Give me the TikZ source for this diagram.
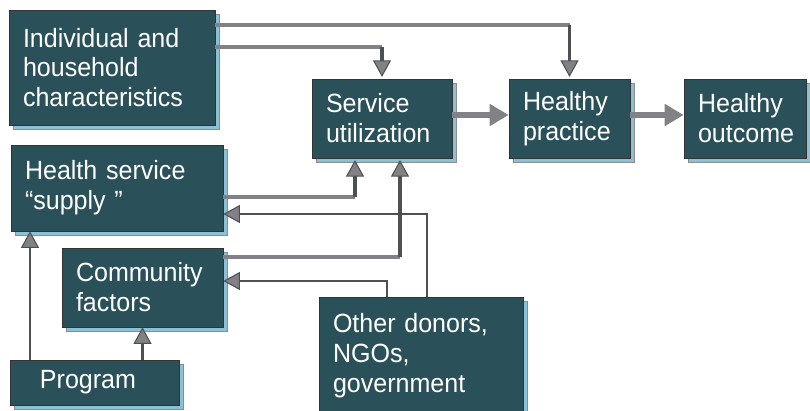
\documentclass[tikz,border=0pt]{standalone}
\usepackage{fontspec}
\setmainfont{Liberation Sans}[FakeStretch=0.95]
\usetikzlibrary{positioning,shadows,arrows.meta}
\definecolor{boxteal}{RGB}{42,81,89}
\definecolor{shadowblue}{RGB}{142,192,212}
\definecolor{linegray}{RGB}{128,130,133}
\definecolor{linedark}{RGB}{78,80,83}

\begin{document}
\begin{tikzpicture}[auto, node distance=3cm]
     		%define block styles
     		\tikzset{
     			block/.style={rectangle, draw=black!80, fill=boxteal, text=white, align=left, inner xsep=0.28cm, font=\fontsize{15}{17}\selectfont, drop shadow={shadow xshift=0.08cm, shadow yshift=-0.08cm, fill=shadowblue, draw=black!45, opacity=1}},
     			feed/.style={draw=linegray, line width=2.8pt},
     			upline/.style={draw=linedark, line width=1.8pt, -{Triangle[width=0.36cm, length=0.33cm, fill=linegray, line width=0.6pt]}, shorten >=1pt},
     			link/.style={draw=linedark, line width=1.6pt, -{Triangle[width=0.36cm, length=0.33cm, fill=linegray, line width=0.6pt]}},
     			bigarrow/.style={draw=linegray, line width=3.2pt, -{Triangle[width=0.42cm, length=0.38cm]}},}
     		\useasboundingbox (0,0) rectangle (16.2,-8.2);
     		%define nodes
     		\node[block, text width=3.56cm, minimum height=2.30cm](indiv) at (2.24,-1.35){Individual and\\household\\characteristics};
     		\node[block, below of=indiv, yshift=0.59cm, xshift=0.10cm, text width=3.68cm, minimum height=1.72cm](supply){Health service\\“supply ”};
     		\node[block, below of=supply, yshift=1.01cm, xshift=0.51cm, text width=2.66cm, minimum height=1.58cm](comm){Community\\factors};
     		\node[block, below of=comm, yshift=1.10cm, xshift=-0.96cm, text width=2.82cm, minimum height=0.90cm](prog){\hspace*{0.32cm}Program};
     		\node[block, text width=2.24cm, minimum height=1.58cm](serv) at (7.64,-2.37){Service\\utilization};
     		\node[block, right of=serv, xshift=0.75cm, text width=1.86cm, minimum height=1.58cm](practice){Healthy\\practice};
     		\node[block, right of=practice, xshift=0.51cm, text width=1.88cm, minimum height=1.58cm](outcome){Healthy\\outcome};
     		\node[block, below of=serv, yshift=-1.75cm, xshift=0.78cm, text width=3.52cm, minimum height=2.36cm](donors){Other donors,\\NGOs,\\government};
     		%define connectors
     		\coordinate (i1) at ([yshift=0.85cm]indiv.east);
     		\coordinate (i2) at ([yshift=0.41cm]indiv.east);
     		\draw[feed] (i1) -- (i1 -| practice.north) coordinate (t1);
     		\draw[upline] (t1) -- (practice.north);
     		\draw[feed] (i2) -- (i2 -| serv.north) coordinate (t2);
     		\draw[upline] (t2) -- (serv.north);
     		\draw[bigarrow] ([yshift=0.07cm]serv.east) -- ([yshift=0.07cm]practice.west);
     		\draw[bigarrow] ([yshift=0.07cm]practice.east) -- ([yshift=0.07cm]outcome.west);
     		\coordinate (h1) at ([yshift=-0.18cm]supply.east);
     		\coordinate (s1) at ([xshift=-0.54cm]serv.south);
     		\draw[feed] (h1) -- (h1 -| s1) coordinate (t3);
     		\draw[upline] (t3) -- (s1);
     		\coordinate (c1) at ([yshift=0.61cm]comm.east);
     		\coordinate (s2) at ([xshift=0.36cm]serv.south);
     		\draw[feed] (c1) -- (c1 -| s2) coordinate (t4);
     		\draw[upline] (t4) -- (s2);
     		\draw[link] ([xshift=0.12cm]donors.north) |- ([yshift=-0.52cm]supply.east);
     		\draw[link] ([xshift=-0.68cm]donors.north) |- ([yshift=0.13cm]comm.east);
     		\coordinate (p1) at ([xshift=-1.29cm]prog.north);
     		\draw[link] (p1) -- (p1 |- supply.south);
     		\draw[link] (prog.north -| comm.south) -- (comm.south);
     	\end{tikzpicture}
\end{document}
